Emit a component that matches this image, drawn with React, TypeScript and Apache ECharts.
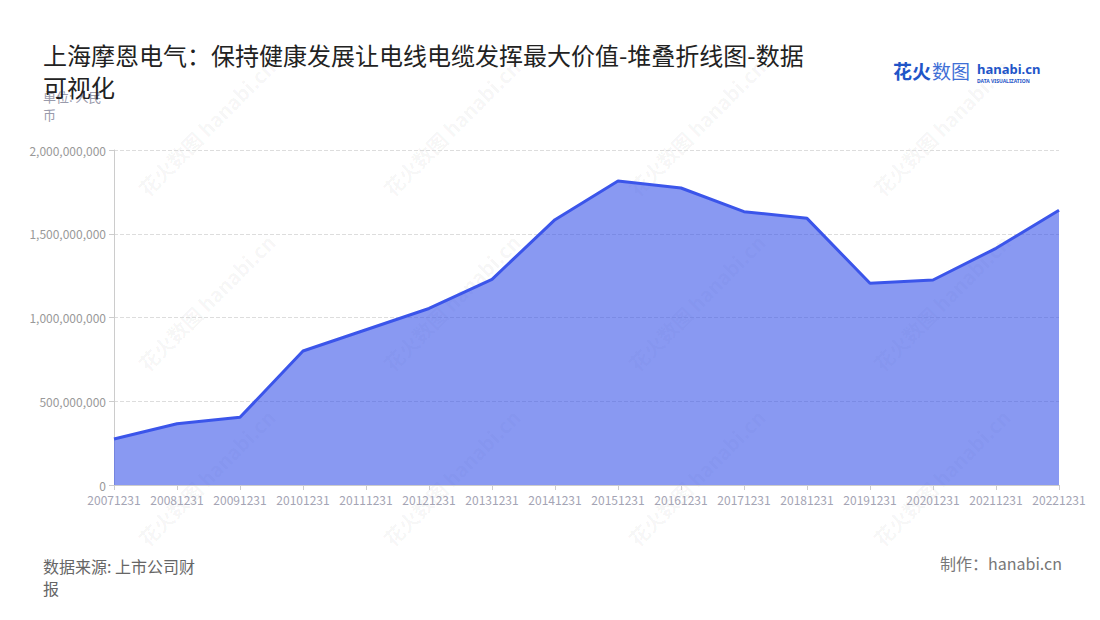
import React, { useEffect, useRef } from "react";
import * as echarts from "echarts";

const categories = [
  "20071231", "20081231", "20091231", "20101231", "20111231", "20121231",
  "20131231", "20141231", "20151231", "20161231", "20171231", "20181231",
  "20191231", "20201231", "20211231", "20221231",
];
const values = [
  275000000, 366000000, 404000000, 800000000, 927000000, 1054000000,
  1228000000, 1584000000, 1815000000, 1773000000, 1632000000, 1592000000,
  1204000000, 1224000000, 1413000000, 1640000000,
];
const seriesName = "营业收入";
const titleText = "上海摩恩电气：保持健康发展让电线电缆发挥最大价值-堆叠折线图-数据可视化";
const unitText = "单位: 人民\n币";
const sourceText = "数据来源: 上市公司财\n报";
const makerText = "制作：hanabi.cn";

const watermarkPositions: [number, number][] = [
  [135, 185], [380, 185], [625, 185], [870, 185],
  [135, 360], [380, 360], [625, 360], [870, 360],
  [135, 535], [380, 535], [625, 535], [870, 535],
];

export default function App() {
  const ref = useRef<HTMLDivElement>(null);
  useEffect(() => {
    if (!ref.current) return;
    const chart = echarts.init(ref.current, null, { renderer: "svg" });
    const watermarks = watermarkPositions.map(([x, y]) => ({
      type: "text",
      x,
      y,
      rotation: Math.PI / 4,
      z: -1,
      silent: true,
      style: {
        text: "花火数图 hanabi.cn",
        fill: "rgba(0,0,0,0.045)",
        font: "bold 20px 'Noto Sans CJK SC', sans-serif",
      },
    }));
    chart.setOption({
      animation: false,
      backgroundColor: "#fff",
      title: {
        text: titleText,
        left: 43,
        top: 38,
        padding: 0,
        textStyle: {
          fontSize: 24,
          fontWeight: "normal",
          color: "#222",
          width: 775,
          overflow: "break",
          lineHeight: 32,
          fontFamily: "'Noto Sans CJK SC', sans-serif",
        },
      },
      grid: { left: 114, right: 41, top: 150, bottom: 135 },
      xAxis: {
        type: "category",
        data: categories,
        boundaryGap: false,
        axisLine: { lineStyle: { color: "#ccc" } },
        axisTick: { show: true, lineStyle: { color: "#ccc" } },
        axisLabel: {
          color: "#a4a4b4",
          fontSize: 12,
          interval: 0,
          margin: 8,
          fontFamily: "'Noto Sans CJK SC', sans-serif",
        },
      },
      yAxis: {
        type: "value",
        min: 0,
        max: 2000000000,
        interval: 500000000,
        axisLine: { show: true, lineStyle: { color: "#ccc" } },
        axisTick: { show: true, lineStyle: { color: "#ccc" } },
        splitLine: { lineStyle: { color: "#ddd", type: "dashed" } },
        axisLabel: {
          color: "#999",
          fontSize: 12,
          fontFamily: "'Noto Sans CJK SC', sans-serif",
          formatter: (v: number) => v.toLocaleString("en-US"),
        },
      },
      series: [
        {
          name: seriesName,
          type: "line",
          stack: "total",
          data: values,
          symbol: "none",
          lineStyle: { color: "#3b55ea", width: 3 },
          itemStyle: { color: "#3b55ea" },
          areaStyle: { color: "#3b55ea", opacity: 0.6 },
        },
      ],
      graphic: [
        ...watermarks,
        {
          type: "text",
          left: 43,
          top: 87,
          style: {
            text: unitText,
            fill: "#999aab",
            font: "13px 'Noto Sans CJK SC', sans-serif",
            lineHeight: 18,
          },
        },
        {
          type: "text",
          left: 43,
          top: 555,
          style: {
            text: sourceText,
            fill: "#666",
            font: "16px 'Noto Sans CJK SC', sans-serif",
            lineHeight: 22,
          },
        },
        {
          type: "text",
          right: 38,
          top: 555,
          style: {
            text: makerText,
            fill: "#777",
            font: "16px 'Noto Sans CJK SC', sans-serif",
          },
        },
        {
          type: "text",
          left: 893,
          top: 61,
          style: {
            text: "花火",
            fill: "#1f55c8",
            font: "bold 19px 'Noto Sans CJK SC', sans-serif",
          },
        },
        {
          type: "text",
          left: 932,
          top: 61,
          style: {
            text: "数图",
            fill: "#3f6fd6",
            font: "19px 'Noto Sans CJK SC', sans-serif",
          },
        },
        {
          type: "text",
          left: 977,
          top: 62,
          style: {
            text: "hanabi.cn",
            fill: "#1f55c8",
            font: "bold 13px 'Noto Sans', sans-serif",
          },
        },
        {
          type: "text",
          left: 977,
          top: 78,
          style: {
            text: "DATA VISUALIZATION",
            fill: "#1f55c8",
            font: "bold 5px 'Noto Sans', sans-serif",
          },
        },
      ],
    });
    return () => chart.dispose();
  }, []);
  return <div ref={ref} style={{ width: 1100, height: 620, margin: -8 }} />;
}
